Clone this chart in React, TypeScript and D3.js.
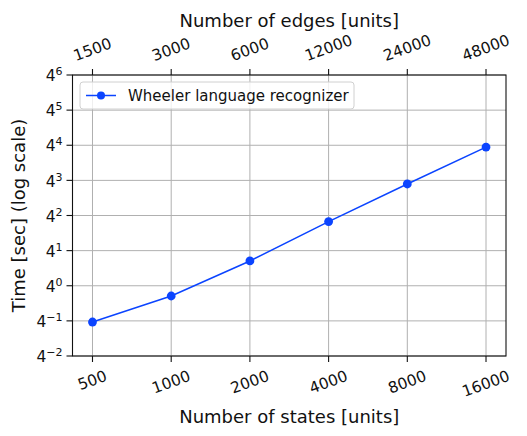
import { useEffect, useRef } from "react";
import * as d3 from "d3";

// x positions are evenly spaced (log2 scale), y is log base 4
const states = [500, 1000, 2000, 4000, 8000, 16000];
const edges = [1500, 3000, 6000, 12000, 24000, 48000];
const times = [0.239, 0.667, 2.66, 12.6, 55.5, 238];
const yExponents = [-2, -1, 0, 1, 2, 3, 4, 5, 6];
const seriesName = "Wheeler language recognizer";

const W = 527, H = 436;
const FONT = "DejaVu Sans, sans-serif";
const BLUE = "#0b44ff";
const INK = "#111";

const App = () => {
  const svgRef = useRef<SVGSVGElement>(null);

  useEffect(() => {
    const svg = d3.select(svgRef.current);
    svg.selectAll("*").remove();

    const left = 72.5, right = 506, top = 75, bottom = 356;

    const x = d3.scaleLinear().domain([-0.254, 5.254]).range([left, right]);
    const y = d3.scaleLog().base(4).domain([Math.pow(4, -2), Math.pow(4, 6)]).range([bottom, top]);

    const g = svg.append("g");

    // grid
    states.forEach((_, i) => {
      g.append("line")
        .attr("x1", x(i)).attr("x2", x(i))
        .attr("y1", top).attr("y2", bottom)
        .attr("stroke", "#b0b0b0").attr("stroke-width", 1);
    });
    yExponents.forEach(e => {
      g.append("line")
        .attr("x1", left).attr("x2", right)
        .attr("y1", y(Math.pow(4, e))).attr("y2", y(Math.pow(4, e)))
        .attr("stroke", "#b0b0b0").attr("stroke-width", 1);
    });

    // line + markers
    const line = d3.line<number>()
      .x((_, i) => x(i))
      .y(d => y(d));
    g.append("path")
      .datum(times)
      .attr("d", line)
      .attr("fill", "none")
      .attr("stroke", BLUE)
      .attr("stroke-width", 1.5);
    g.selectAll("circle.pt")
      .data(times)
      .enter()
      .append("circle")
      .attr("class", "pt")
      .attr("cx", (_, i) => x(i))
      .attr("cy", d => y(d))
      .attr("r", 4.4)
      .attr("fill", BLUE);

    // spines
    g.append("rect")
      .attr("x", left).attr("y", top)
      .attr("width", right - left).attr("height", bottom - top)
      .attr("fill", "none").attr("stroke", INK).attr("stroke-width", 1.1);

    const tickFont = 15.5;
    const rot = 20 * Math.PI / 180;
    const bboxH = (s: string) => {
      const w = s.length * 0.636 * tickFont;
      const h = 1.17 * tickFont;
      return w * Math.sin(rot) + h * Math.cos(rot);
    };

    // bottom ticks
    states.forEach((s, i) => {
      g.append("line")
        .attr("x1", x(i)).attr("x2", x(i))
        .attr("y1", bottom).attr("y2", bottom + 6)
        .attr("stroke", INK).attr("stroke-width", 1.1);
      const label = String(s);
      const cy = bottom + 11 + bboxH(label) / 2;
      g.append("text")
        .attr("transform", `translate(${x(i)},${cy}) rotate(-20)`)
        .attr("text-anchor", "middle")
        .attr("dominant-baseline", "central")
        .attr("font-family", FONT).attr("font-size", tickFont)
        .attr("fill", INK)
        .text(label);
    });

    // top ticks
    edges.forEach((s, i) => {
      g.append("line")
        .attr("x1", x(i)).attr("x2", x(i))
        .attr("y1", top).attr("y2", top - 6)
        .attr("stroke", INK).attr("stroke-width", 1.1);
      const label = String(s);
      const cy = top - 10 - bboxH(label) / 2;
      g.append("text")
        .attr("transform", `translate(${x(i)},${cy}) rotate(-20)`)
        .attr("text-anchor", "middle")
        .attr("dominant-baseline", "central")
        .attr("font-family", FONT).attr("font-size", tickFont)
        .attr("fill", INK)
        .text(label);
    });

    // left ticks
    yExponents.forEach(e => {
      const ty = y(Math.pow(4, e));
      g.append("line")
        .attr("x1", left - 6).attr("x2", left)
        .attr("y1", ty).attr("y2", ty)
        .attr("stroke", INK).attr("stroke-width", 1.1);
      const t = g.append("text")
        .attr("x", left - 10).attr("y", ty + 6.2)
        .attr("text-anchor", "end")
        .attr("font-family", FONT).attr("font-size", 15.5)
        .attr("fill", INK);
      t.append("tspan").text("4");
      t.append("tspan")
        .attr("dy", -6)
        .attr("font-size", 11)
        .text(e < 0 ? `\u2212${-e}` : String(e));
    });

    // axis labels
    g.append("text")
      .attr("x", (left + right) / 2).attr("y", 423)
      .attr("text-anchor", "middle")
      .attr("font-family", FONT).attr("font-size", 18)
      .attr("fill", INK)
      .text("Number of states [units]");
    g.append("text")
      .attr("x", (left + right) / 2).attr("y", 27)
      .attr("text-anchor", "middle")
      .attr("font-family", FONT).attr("font-size", 18)
      .attr("fill", INK)
      .text("Number of edges [units]");
    g.append("text")
      .attr("transform", `translate(25,${(top + bottom) / 2}) rotate(-90)`)
      .attr("text-anchor", "middle")
      .attr("font-family", FONT).attr("font-size", 18)
      .attr("fill", INK)
      .text("Time [sec] (log scale)");

    // legend
    const lg = g.append("g");
    lg.append("rect")
      .attr("x", 80).attr("y", 82)
      .attr("width", 274).attr("height", 27)
      .attr("rx", 3)
      .attr("fill", "white").attr("fill-opacity", 0.8)
      .attr("stroke", "#d0d0d0").attr("stroke-width", 1);
    lg.append("line")
      .attr("x1", 86).attr("x2", 116)
      .attr("y1", 95.5).attr("y2", 95.5)
      .attr("stroke", BLUE).attr("stroke-width", 1.5);
    lg.append("circle")
      .attr("cx", 101).attr("cy", 95.5).attr("r", 4)
      .attr("fill", BLUE);
    lg.append("text")
      .attr("x", 128).attr("y", 101)
      .attr("font-family", FONT).attr("font-size", 15)
      .attr("fill", INK)
      .text(seriesName);
  }, []);

  return (
    <svg
      ref={svgRef}
      width={W}
      height={H}
      style={{ position: "absolute", left: 0, top: 0, background: "white" }}
    />
  );
};

export default App;
